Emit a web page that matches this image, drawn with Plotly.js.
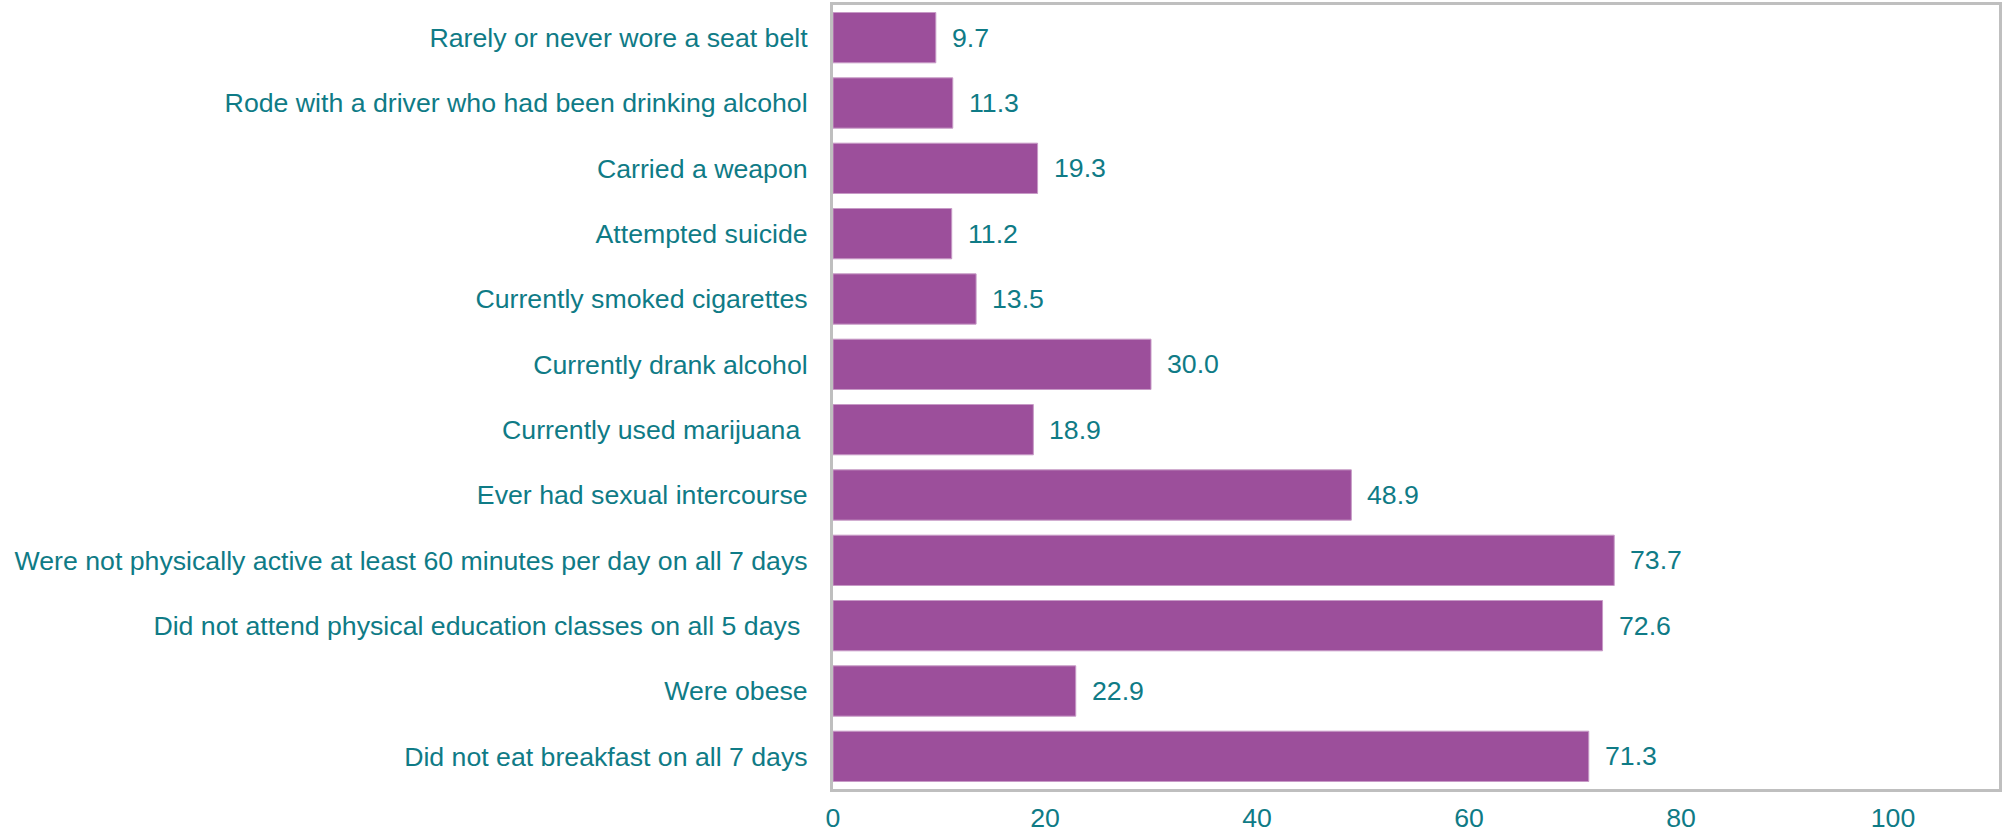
<!DOCTYPE html>
<html>
<head>
<meta charset="utf-8">
<script src="https://cdn.plot.ly/plotly-3.0.1.min.js"></script>
<style>html,body{margin:0;padding:0;background:#fff;}#chart{width:2012px;height:836px;}</style>
</head>
<body>
<div id="chart"></div>
<script>
const categories = [
  "Rarely or never wore a seat belt",
  "Rode with a driver who had been drinking alcohol",
  "Carried a weapon",
  "Attempted suicide",
  "Currently smoked cigarettes",
  "Currently drank alcohol",
  "Currently used marijuana\u00a0",
  "Ever had sexual intercourse",
  "Were not physically active at least 60 minutes per day on all 7 days",
  "Did not attend physical education classes on all 5 days\u00a0",
  "Were obese",
  "Did not eat breakfast on all 7 days"
];
const values = [9.7, 11.3, 19.3, 11.2, 13.5, 30.0, 18.9, 48.9, 73.7, 72.6, 22.9, 71.3];
const valueLabels = values.map(v => v.toFixed(1));
const xTicks = [0, 20, 40, 60, 80, 100];

const teal = "#0f7b86";
const font = "Liberation Sans, Arial, sans-serif";

const trace = {
  type: "bar",
  orientation: "h",
  x: values,
  y: categories,
  marker: {color: "#9c4f9b", line: {color: "#c79ac6", width: 1}},
  hoverinfo: "none"
};

const annotations = values.map((v, i) => ({
  x: v, y: categories[i], xref: "x", yref: "y",
  text: valueLabels[i], showarrow: false,
  xanchor: "left", yanchor: "middle", xshift: 14,
  font: {family: font, size: 26.7, color: teal}
}));

const layout = {
  width: 2012, height: 836,
  margin: {l: 833, r: 13, t: 5, b: 47, pad: 0},
  paper_bgcolor: "#fff", plot_bgcolor: "#fff",
  bargap: 0.23,
  showlegend: false,
  xaxis: {
    range: [0, 110], tickvals: xTicks, ticktext: xTicks.map(String),
    showgrid: false, zeroline: false,
    showline: true, mirror: true, linecolor: "#bfbfbf", linewidth: 3,
    ticks: "", ticklabelstandoff: 3,
    tickfont: {family: font, size: 26.7, color: teal}
  },
  yaxis: {
    autorange: "reversed", type: "category",
    showgrid: false, zeroline: false,
    showline: true, mirror: true, linecolor: "#bfbfbf", linewidth: 3,
    ticks: "", ticklabelstandoff: 17,
    tickfont: {family: font, size: 26.7, color: teal}
  },
  annotations: annotations
};

Plotly.newPlot("chart", [trace], layout, {displayModeBar: false, staticPlot: true});
</script>
</body>
</html>
